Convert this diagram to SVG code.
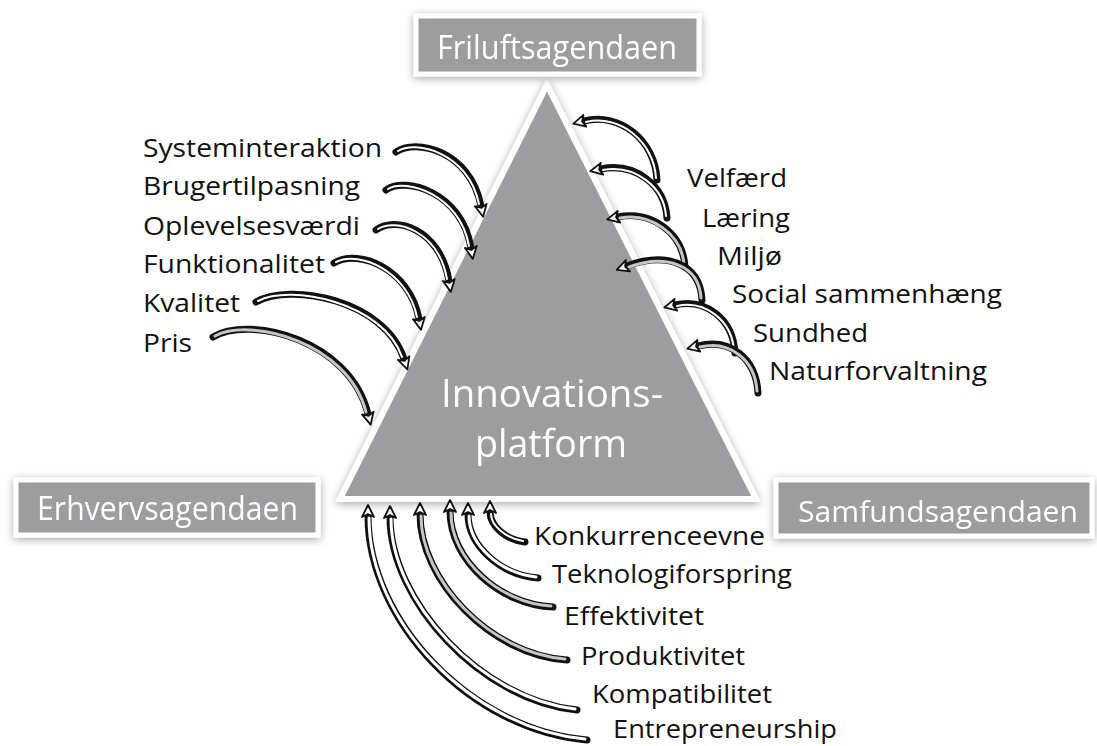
<svg xmlns="http://www.w3.org/2000/svg" width="1097" height="746" viewBox="0 0 1097 746">
<defs>
<filter id="sh" x="-20%" y="-20%" width="140%" height="140%">
<feDropShadow dx="0" dy="2" stdDeviation="4" flood-color="#000" flood-opacity="0.35"/>
</filter>
<marker id="ah" markerUnits="userSpaceOnUse" markerWidth="16" markerHeight="16" refX="2" refY="7" orient="auto" viewBox="0 0 16 14">
<path d="M1,1 L13,7 L1,13 L4,7 Z" fill="#fff" stroke="#111" stroke-width="1.8" stroke-linejoin="round"/>
</marker>
<style>
.box{fill:#9c9da1;stroke:#fff;stroke-width:5}
.boxt{font-family:"Open Sans","Noto Sans",sans-serif;font-size:33px;fill:#fff}
.lab{font-family:"Open Sans","Noto Sans",sans-serif;font-size:26px;fill:#111}
.ctr{font-family:"Open Sans","Noto Sans",sans-serif;font-size:38px;fill:#fff;text-anchor:middle}
.ob{fill:none;stroke:#111;stroke-width:7;stroke-linecap:round}
.in{fill:none;stroke:#fff;stroke-width:2;stroke-linecap:round}
.inb{fill:none;stroke:#fff;stroke-width:3;stroke-linecap:round}
.ing{fill:none;stroke:#c4c5c7;stroke-width:3;stroke-linecap:round}
</style>
</defs>
<rect width="1097" height="746" fill="#fff"/>

<g id="triangle" filter="url(#sh)">
<polygon points="547,85 340,499 756,499" fill="#9c9da1" stroke="#fff" stroke-width="6" stroke-linejoin="miter"/>
<text class="ctr" x="552" y="407" textLength="222" lengthAdjust="spacingAndGlyphs">Innovations-</text>
<text class="ctr" x="551" y="457" textLength="152" lengthAdjust="spacingAndGlyphs">platform</text>
</g>

<g id="box-friluft" filter="url(#sh)">
<rect class="box" x="416" y="16" width="283" height="58"/>
<text class="boxt" x="437" y="59" textLength="240" lengthAdjust="spacingAndGlyphs">Friluftsagendaen</text>
</g>
<g id="box-erhverv" filter="url(#sh)">
<rect class="box" x="16" y="480" width="302" height="55"/>
<text class="boxt" x="37" y="520" textLength="261" lengthAdjust="spacingAndGlyphs">Erhvervsagendaen</text>
</g>
<g id="box-samfund" filter="url(#sh)">
<rect class="box" x="776" y="480" width="316" height="56"/>
<text class="boxt" x="798" y="522" style="font-size:30px" textLength="280" lengthAdjust="spacingAndGlyphs">Samfundsagendaen</text>
</g>

<g id="connectors">
<g id="a-systeminteraktion"><path class="ob" d="M396,152 C415,138 470,150 481,206" marker-end="url(#ah)"/><path class="in" d="M398,151 C415,140 468,152 479,204"/></g>
<g id="a-brugertilpasning"><path class="ob" d="M386,190 C405,176 462,192 471,248" marker-end="url(#ah)"/><path class="in" d="M388,189 C405,178 460,194 469,246"/></g>
<g id="a-oplevelsesvaerdi"><path class="ob" d="M376,230 C395,216 440,228 449,281" marker-end="url(#ah)"/><path class="in" d="M378,229 C395,218 438,230 447,279"/></g>
<g id="a-funktionalitet"><path class="ob" d="M334,263 C360,248 410,270 419,319" marker-end="url(#ah)"/><path class="in" d="M336,262 C360,250 408,272 417,317"/></g>
<g id="a-kvalitet"><path class="ob" d="M256,302 C290,282 385,300 404,359" marker-end="url(#ah)"/><path class="in" d="M258,301 C290,284 383,302 402,357"/></g>
<g id="a-pris"><path class="ob" d="M213,337 C250,315 350,340 368,414" marker-end="url(#ah)"/><path class="ing" d="M215,336 C250,317 348,342 366,412"/></g>

<g id="a-velfaerd"><path class="ob" d="M657,180 C655,140 620,112 584,121" marker-end="url(#ah)"/><path class="in" d="M656,178 C654,142 620,114 586,122"/></g>
<g id="a-laering"><path class="ob" d="M667,218 C665,185 635,162 601,169" marker-end="url(#ah)"/><path class="in" d="M666,216 C664,187 635,164 603,170"/></g>
<g id="a-miljo"><path class="ob" d="M685,267 C683,232 650,210 618,217" marker-end="url(#ah)"/><path class="ing" d="M684,265 C682,234 650,212 620,218"/></g>
<g id="a-social"><path class="ob" d="M702,300 C700,262 665,252 627,266" marker-end="url(#ah)"/><path class="ing" d="M701,298 C699,264 665,254 629,267"/></g>
<g id="a-sundhed"><path class="ob" d="M735,353 C733,318 705,298 675,305" marker-end="url(#ah)"/><path class="in" d="M734,351 C732,320 705,300 677,306"/></g>
<g id="a-natur"><path class="ob" d="M758,393 C756,358 730,338 698,346" marker-end="url(#ah)"/><path class="ing" d="M757,391 C755,360 730,340 700,347"/></g>

<g id="a-konkurrence"><path class="ob" d="M525,542 C505,540 490,525 490,512" marker-end="url(#ah)"/><path class="in" d="M523,541 C505,538 491,525 491,514"/></g>
<g id="a-teknologi"><path class="ob" d="M538,578 C500,575 468,545 468,514" marker-end="url(#ah)"/><path class="inb" d="M536,577 C500,573 469,545 469,516"/></g>
<g id="a-effektivitet"><path class="ob" d="M553,607 C500,605 450,560 450,511" marker-end="url(#ah)"/><path class="ing" d="M551,606 C500,603 451,560 451,513"/></g>
<g id="a-produktivitet"><path class="ob" d="M567,660 C490,655 420,580 420,514" marker-end="url(#ah)"/><path class="ing" d="M565,659 C490,653 421,580 421,516"/></g>
<g id="a-kompatibilitet"><path class="ob" d="M577,710 C480,700 390,600 390,517" marker-end="url(#ah)"/><path class="inb" d="M575,709 C480,698 391,600 391,519"/></g>
<g id="a-entrepreneurship"><path class="ob" d="M587,740 C470,730 368,620 368,516" marker-end="url(#ah)"/><path class="inb" d="M585,739 C470,728 369,620 369,518"/></g>
</g>

<g id="labels-left">
<text class="lab" x="143" y="157" textLength="239" lengthAdjust="spacingAndGlyphs">Systeminteraktion</text>
<text class="lab" x="143" y="195" textLength="217" lengthAdjust="spacingAndGlyphs">Brugertilpasning</text>
<text class="lab" x="143" y="235" textLength="217" lengthAdjust="spacingAndGlyphs">Oplevelsesværdi</text>
<text class="lab" x="143" y="273" textLength="182" lengthAdjust="spacingAndGlyphs">Funktionalitet</text>
<text class="lab" x="143" y="312" textLength="97" lengthAdjust="spacingAndGlyphs">Kvalitet</text>
<text class="lab" x="143" y="352" textLength="49" lengthAdjust="spacingAndGlyphs">Pris</text>
</g>
<g id="labels-right">
<text class="lab" x="687" y="187" textLength="100" lengthAdjust="spacingAndGlyphs">Velfærd</text>
<text class="lab" x="702" y="227" textLength="88" lengthAdjust="spacingAndGlyphs">Læring</text>
<text class="lab" x="717" y="265" textLength="65" lengthAdjust="spacingAndGlyphs">Miljø</text>
<text class="lab" x="732" y="303" textLength="270" lengthAdjust="spacingAndGlyphs">Social sammenhæng</text>
<text class="lab" x="753" y="342" textLength="115" lengthAdjust="spacingAndGlyphs">Sundhed</text>
<text class="lab" x="769" y="380" textLength="218" lengthAdjust="spacingAndGlyphs">Naturforvaltning</text>
</g>
<g id="labels-bottom">
<text class="lab" x="534" y="545" textLength="231" lengthAdjust="spacingAndGlyphs">Konkurrenceevne</text>
<text class="lab" x="552" y="583" textLength="240" lengthAdjust="spacingAndGlyphs">Teknologiforspring</text>
<text class="lab" x="564" y="625" textLength="140" lengthAdjust="spacingAndGlyphs">Effektivitet</text>
<text class="lab" x="581" y="665" textLength="164" lengthAdjust="spacingAndGlyphs">Produktivitet</text>
<text class="lab" x="592" y="703" textLength="180" lengthAdjust="spacingAndGlyphs">Kompatibilitet</text>
<text class="lab" x="613" y="738" textLength="224" lengthAdjust="spacingAndGlyphs">Entrepreneurship</text>
</g>
</svg>
